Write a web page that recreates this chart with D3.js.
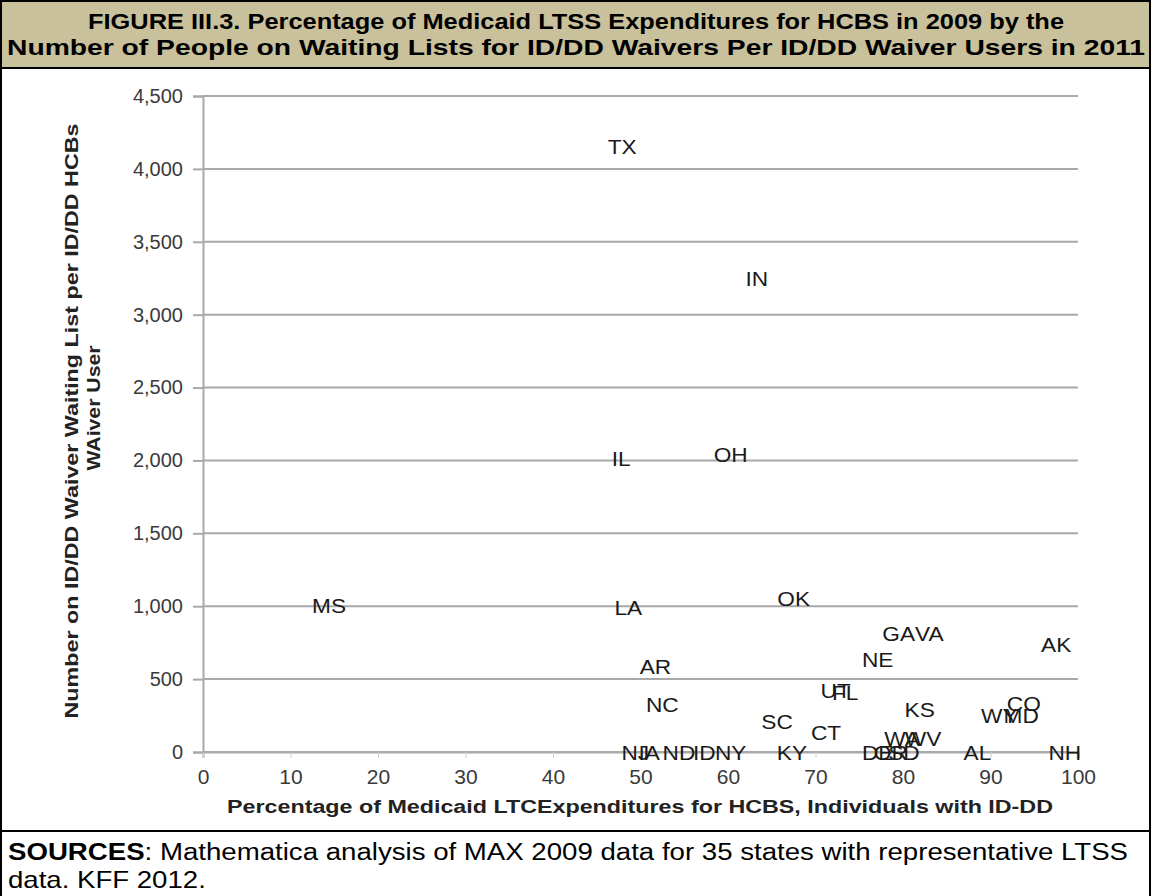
<!DOCTYPE html>
<html>
<head>
<meta charset="utf-8">
<script src="https://cdn.jsdelivr.net/npm/d3@7"></script>
<style>
  html, body { margin: 0; padding: 0; background: #fff; }
  svg { display: block; font-family: Arial, "Liberation Sans", sans-serif; }
</style>
</head>
<body>
<svg id="chart" width="1151" height="896"></svg>
<script>
// ---- data ----
const states = ["TX","IN","IL","OH","MS","LA","OK","GA","VA","NE","AK","AR","NC","UT","FL","SC","CT","KS","WY","MD","CO",
                "NJ","IA","ND","ID","NY","KY","DE","OR","SD","WA","WV","AL","NH"];
const pctHCBS = [47.9,63.3,47.8,60.3,14.4,48.6,67.5,79.5,83.0,77.1,97.5,51.7,52.5,72.3,73.4,65.6,71.2,81.9,91.0,93.5,93.8,
                 49.4,51.0,54.4,57.3,60.3,67.3,77.1,78.6,80.1,79.9,82.3,88.5,98.5];
const waitPerUser = [4153,3247,2017,2044,1002,995,1056,816,816,638,741,590,329,420,410,213,137,295,254,254,330,
                     0,0,0,0,0,0,0,0,0,96,96,0,0];
const xTicks = [0,10,20,30,40,50,60,70,80,90,100];
const yTicks = [0,500,1000,1500,2000,2500,3000,3500,4000,4500];
const titleLines = ["FIGURE III.3. Percentage of Medicaid LTSS Expenditures for HCBS in 2009 by the",
                    "Number of People on Waiting Lists for ID/DD Waivers Per ID/DD Waiver Users in 2011"];
const xAxisTitle = "Percentage of Medicaid LTCExpenditures for HCBS, Individuals with ID-DD";
const yAxisTitle = ["Number on ID/DD Waiver Waiting List per ID/DD HCBs", "WAiver User"];
const sourceLines = ["Mathematica analysis of MAX 2009 data for 35 states with representative LTSS", "data. KFF 2012."];

// ---- layout ----
const W = 1151, H = 896;
const svg = d3.select("#chart");
const titleH = 68, sourceTop = 831;

// frames
svg.append("rect").attr("x",1).attr("y",1).attr("width",W-2).attr("height",titleH-1)
   .attr("fill","#c9c19b");
svg.append("rect").attr("x",1).attr("y",1).attr("width",W-2).attr("height",H+10)
   .attr("fill","none").attr("stroke","#000").attr("stroke-width",2);
svg.append("line").attr("x1",0).attr("x2",W).attr("y1",titleH).attr("y2",titleH).attr("stroke","#000").attr("stroke-width",2);
svg.append("line").attr("x1",0).attr("x2",W).attr("y1",sourceTop).attr("y2",sourceTop).attr("stroke","#000").attr("stroke-width",2);

// title
const titleSpans = [[88,976],[7,1138]];
svg.selectAll("text.title").data(titleLines).join("text").attr("class","title")
   .attr("x",(d,i)=>titleSpans[i][0]).attr("y",(d,i)=>29+i*26)
   .attr("textLength",(d,i)=>titleSpans[i][1]).attr("lengthAdjust","spacingAndGlyphs")
   .attr("font-size",22).attr("font-weight","bold").attr("fill","#000").text(d=>d);

// scales
const x = d3.scaleLinear().domain([0,100]).range([203,1078]);
const y = d3.scaleLinear().domain([0,4500]).range([752,96]);

// gridlines
svg.append("g").selectAll("line").data(yTicks).join("line")
   .attr("x1",x(0)).attr("x2",x(100)).attr("y1",d=>y(d)).attr("y2",d=>y(d))
   .attr("stroke","#a9a9a9").attr("stroke-width",2);

// y axis
const yAxis = svg.append("g").attr("transform",`translate(${x(0)},0)`)
   .call(d3.axisLeft(y).tickValues(yTicks).tickFormat(d3.format(",")).tickSize(10).tickPadding(10));
yAxis.select(".domain").attr("stroke","#a9a9a9").attr("stroke-width",2);
yAxis.selectAll(".tick line").attr("stroke","#a9a9a9").attr("stroke-width",2);
yAxis.selectAll(".tick text").attr("font-size",20).attr("fill","#3a3a3a").attr("font-family","Arial, 'Liberation Sans', sans-serif");

// x axis
const xAxis = svg.append("g").attr("transform",`translate(0,${y(0)})`)
   .call(d3.axisBottom(x).tickValues(xTicks).tickSize(6).tickPadding(11));
xAxis.select(".domain").attr("stroke","#a9a9a9").attr("stroke-width",2);
xAxis.selectAll(".tick line").attr("stroke","#cfcfcf").attr("stroke-width",1);
xAxis.selectAll(".tick text").attr("font-size",21).attr("fill","#3a3a3a").attr("font-family","Arial, 'Liberation Sans', sans-serif");

// axis titles
svg.append("text").attr("x",227).attr("y",813)
   .attr("textLength",826).attr("lengthAdjust","spacingAndGlyphs")
   .attr("font-size",18).attr("font-weight","bold").attr("fill","#222").text(xAxisTitle);
const yTitleLen = [595,125];
const yTitleMid = [421,408];
svg.selectAll("text.ytitle").data(yAxisTitle).join("text").attr("class","ytitle")
   .attr("transform",(d,i)=>`translate(${78+i*22},${yTitleMid[i]}) rotate(-90)`)
   .attr("x",(d,i)=>-yTitleLen[i]/2)
   .attr("textLength",(d,i)=>yTitleLen[i]).attr("lengthAdjust","spacingAndGlyphs")
   .attr("font-size",18).attr("font-weight","bold").attr("fill","#222").text(d=>d);

// data labels
const pts = states.map((s,i)=>({s, xv:pctHCBS[i], yv:waitPerUser[i]}));
svg.append("g").selectAll("text").data(pts).join("text")
   .attr("transform",d=>`translate(${x(d.xv)},${y(d.yv)}) scale(1.08,1)`)
   .attr("dy","0.36em")
   .attr("text-anchor","middle").attr("font-size",21).attr("fill","#1a1a1a").text(d=>d.s);

// sources
const src = svg.append("text").attr("x",8).attr("y",860).attr("font-size",23).attr("fill","#000")
   .attr("textLength",1120).attr("lengthAdjust","spacingAndGlyphs");
src.append("tspan").attr("font-weight","bold").text("SOURCES");
src.append("tspan").text(":  " + sourceLines[0]);
svg.append("text").attr("transform","translate(8,888) scale(1.2,1)").attr("font-size",23).attr("fill","#000").text(sourceLines[1]);
</script>
</body>
</html>
